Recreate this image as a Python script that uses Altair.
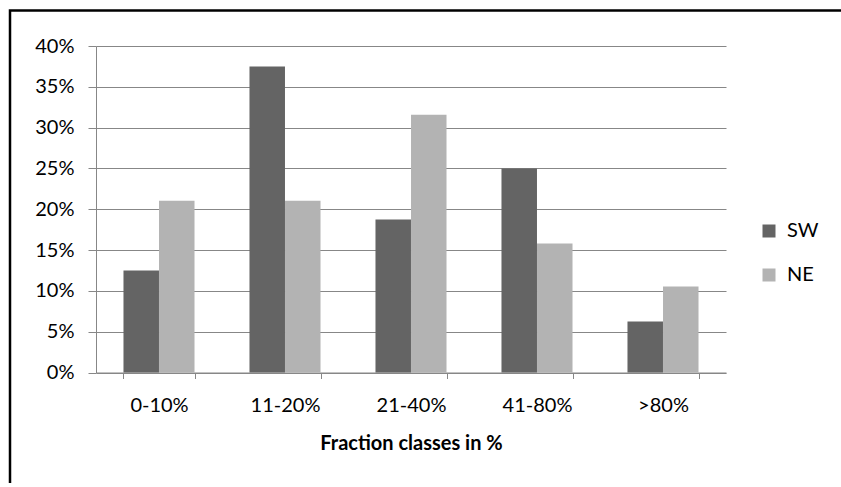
import altair as alt
import pandas as pd

# Share of samples per fraction class, by site
classes = ["0-10%", "11-20%", "21-40%", "41-80%", ">80%"]
sw_share = [12.5, 37.5, 18.75, 25.0, 6.25]
ne_share = [21.05, 21.05, 31.58, 15.79, 10.53]
series = ["SW", "NE"]
series_colors = ["#646464", "#b3b3b3"]
y_ticks = [0, 0.05, 0.10, 0.15, 0.20, 0.25, 0.30, 0.35, 0.40]

rows = []
for cls, a, b in zip(classes, sw_share, ne_share):
    rows.append({"cls": cls, "site": "SW", "share": a / 100})
    rows.append({"cls": cls, "site": "NE", "share": b / 100})
df = pd.DataFrame(rows)

FONT = "Lato"
GRID = "#878787"
W, H = 630, 326.5

bars = alt.Chart(df).mark_bar(size=35.5).encode(
    x=alt.X(
        "cls:N",
        sort=classes,
        scale=alt.Scale(paddingInner=0.436, paddingOuter=0.218),
        axis=alt.Axis(
            title="Fraction classes in %",
            labelAngle=0,
            tickBand="extent",
            tickSize=6,
            tickColor=GRID,
            domainColor=GRID,
            labelPadding=17,
            labelFont=FONT,
            labelFontSize=20,
            labelColor="#000000",
            titleFont=FONT,
            titleFontSize=20,
            titleFontWeight="bold",
            titleColor="#000000",
            titlePadding=18,
            grid=False,
        ),
    ),
    xOffset=alt.XOffset("site:N", sort=series, scale=alt.Scale(paddingInner=0, paddingOuter=0)),
    y=alt.Y(
        "share:Q",
        scale=alt.Scale(domain=[0, 0.4], nice=False),
        axis=alt.Axis(
            title=None,
            format=".0%",
            values=y_ticks,
            tickSize=8,
            tickColor=GRID,
            domainColor=GRID,
            gridColor=GRID,
            gridOpacity=1,
            labelPadding=14,
            labelFont=FONT,
            labelFontSize=20,
            labelColor="#000000",
        ),
    ),
    color=alt.Color(
        "site:N",
        sort=series,
        scale=alt.Scale(domain=series, range=series_colors),
        legend=alt.Legend(
            title=None,
            orient="none",
            legendX=663,
            legendY=175,
            symbolType="square",
            symbolSize=169,
            symbolStrokeWidth=0,
            labelFont=FONT,
            labelFontSize=20,
            labelColor="#000000",
            labelOffset=8,
            rowPadding=24,
            padding=0,
        ),
    ),
)

# Figure frame: its right and bottom sides fall outside the canvas
frame = pd.DataFrame({"k": [0]})
outline = alt.Chart(frame).mark_rect(
    fillOpacity=0, stroke="#000000", strokeWidth=2.5
).encode(
    x=alt.value(-86), x2=alt.value(800), y=alt.value(-35.5), y2=alt.value(500)
)

chart = alt.layer(bars, outline).properties(
    width=W,
    height=H,
    padding={"left": 96, "top": 46, "right": 115, "bottom": 110},
    autosize="none",
    background="#ffffff",
).configure_view(stroke=None)

chart.save("out.html", embed_options={"renderer": "svg", "actions": False})
